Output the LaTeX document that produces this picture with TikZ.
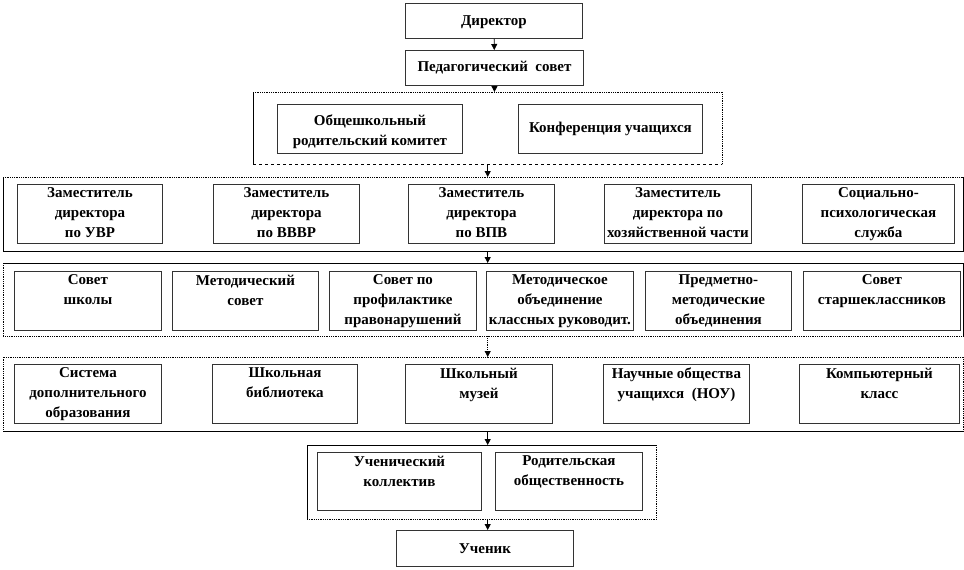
\documentclass[tikz,border=0pt]{standalone}
\usepackage{fontspec}
\setmainfont{Liberation Serif}
\usetikzlibrary{arrows.meta}
\newcommand{\topcell}[3]{\parbox[c][#2pt][t]{#1pt}{\centering\vspace*{3.5pt}#3}}
\newcommand{\midcell}[3]{\parbox[c][#2pt][c]{#1pt}{\centering #3}}

\begin{document}
\begin{tikzpicture}[x=1pt, y=-1pt,
  cell/.style={draw=black!80, line width=0.9pt, inner sep=0pt, anchor=north west,
    font=\fontsize{15}{20}\selectfont\bfseries},
  frame/.style={inner sep=0pt, anchor=north west},
  dots/.style={densely dotted, line width=0.8pt},
  solid line/.style={line width=0.8pt},
  arr/.style={-{Triangle[length=6pt, width=6pt]}, line width=0.8pt}]
\useasboundingbox (0,0) rectangle (964,570);

% top
\node[cell] (dir) at (405,3) {\midcell{177}{35}{\vspace*{3pt}Директор}};
\node[cell] (ped) at (405,50) {\midcell{178}{35}{Педагогический\ \ совет}};

% group 1
\node[frame, minimum width=469pt, minimum height=72pt] (grp1) at (253,92) {};
\draw[dots] (grp1.north west) -- (grp1.north east) -- (grp1.south east);
\draw[solid line] (grp1.north west) -- (grp1.south west);
\draw[dashed, line width=0.8pt] (grp1.south west) -- (grp1.south east);
\node[cell] (rod) at (277,104) {\midcell{185}{49}{\vspace*{5pt}Общешкольный\\родительский комитет}};
\node[cell] (konf) at (518,104) {\midcell{184}{49}{Конференция учащихся}};

% group 2
\node[frame, minimum width=960pt, minimum height=74pt] (grp2) at (3,177) {};
\draw[dots] (grp2.north west) -- (grp2.north east);
\draw[solid line] (grp2.north east) -- (grp2.south east) -- (grp2.south west) -- (grp2.north west);
\node[cell] (zam1) at (17,184) {\topcell{145}{59}{Заместитель\\директора\\по УВР}};
\node[cell] (zam2) at (213,184) {\topcell{146}{59}{Заместитель\\директора\\по ВВВР}};
\node[cell] (zam3) at (408,184) {\topcell{146}{59}{Заместитель\\директора\\по ВПВ}};
\node[cell] (zam4) at (604,184) {\topcell{147}{59}{Заместитель\\директора по\\хозяйственной части}};
\node[cell] (soc) at (802,184) {\topcell{152}{59}{Социально-\\психологическая\\служба}};

% group 3
\node[frame, minimum width=960pt, minimum height=73pt] (grp3) at (3,263) {};
\draw[solid line] (grp3.north west) -- (grp3.north east) -- (grp3.south east);
\draw[dots] (grp3.north west) -- (grp3.south west) -- (grp3.south east);
\node[cell] (sovet) at (14,271) {\topcell{147}{59}{Совет\\школы}};
\node[cell] (metsov) at (172,271) {\topcell{146}{59}{Методический\\совет}};
\node[cell] (prof) at (329,271) {\topcell{147}{59}{Совет по\\профилактике\\правонарушений}};
\node[cell] (metob) at (486,271) {\topcell{147}{59}{Методическое\\объединение\\классных руководит.}};
\node[cell] (pred) at (645,271) {\topcell{146}{59}{Предметно-\\методические\\объединения}};
\node[cell] (star) at (803,271) {\topcell{157}{59}{Совет\\старшеклассников}};

% group 4
\node[frame, minimum width=960pt, minimum height=74pt] (grp4) at (3,357) {};
\draw[dots] (grp4.south west) -- (grp4.north west) -- (grp4.north east) -- (grp4.south east);
\draw[solid line] (grp4.south west) -- (grp4.south east);
\node[cell] (sys) at (14,364) {\topcell{147}{59}{Система\\дополнительного\\образования}};
\node[cell] (bib) at (212,364) {\topcell{145}{59}{Школьная\\библиотека}};
\node[cell] (muz) at (405,364) {\topcell{147}{59}{Школьный\\музей}};
\node[cell] (nou) at (603,364) {\topcell{146}{59}{Научные общества\\учащихся\ \ (НОУ)}};
\node[cell] (comp) at (799,364) {\topcell{160}{59}{Компьютерный\\класс}};

% group 5
\node[frame, minimum width=349pt, minimum height=74pt] (grp5) at (307,445) {};
\draw[solid line] (grp5.south west) -- (grp5.north west) -- (grp5.north east);
\draw[dots] (grp5.north east) -- (grp5.south east) -- (grp5.south west);
\node[cell] (kol) at (317,452) {\topcell{164}{58}{Ученический\\коллектив}};
\node[cell] (obsh) at (495,452) {\topcell{147}{58}{Родительская\\общественность}};

\node[cell] (pupil) at (396,530) {\midcell{177}{36}{Ученик}};

% arrows
\draw[arr] (dir) -- (ped);
\draw[arr] (ped.south) -- (ped.south |- grp1.north);
\draw[arr] (grp1.south) -- (grp1.south |- grp2.north);
\draw[arr] (grp1.south |- grp2.south) -- (grp1.south |- grp3.north);
\draw[arr, densely dotted] (grp1.south |- grp3.south) -- (grp1.south |- grp4.north);
\draw[arr] (grp1.south |- grp4.south) -- (grp1.south |- grp5.north);
\draw[arr] (grp1.south |- grp5.south) -- (grp1.south |- pupil.north);
\end{tikzpicture}
\end{document}
